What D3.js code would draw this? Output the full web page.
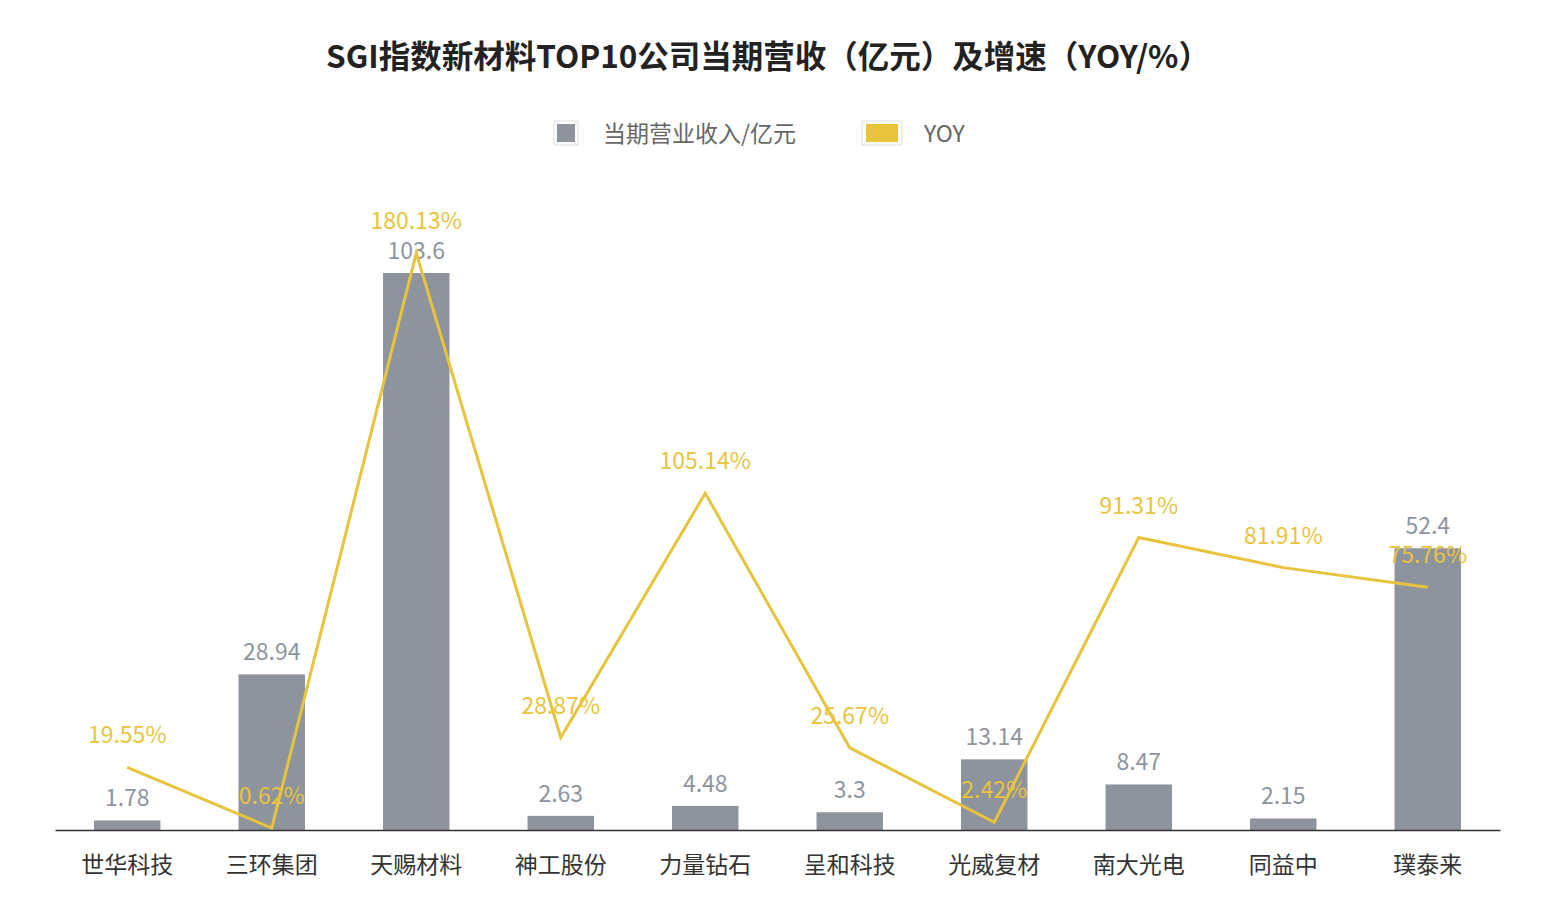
<!DOCTYPE html>
<html><head><meta charset="utf-8">
<script src="https://cdn.jsdelivr.net/npm/d3@7/dist/d3.min.js"></script>
<style>body{margin:0;background:#fff;font-family:"Noto Sans CJK SC","Noto Sans",sans-serif}</style>
</head><body><svg id="c" width="1554" height="914"></svg>
<script>
const categories=["世华科技","三环集团","天赐材料","神工股份","力量钻石","呈和科技","光威复材","南大光电","同益中","璞泰来"];
const revenue=[1.78,28.94,103.6,2.63,4.48,3.3,13.14,8.47,2.15,52.4];
const yoy=[19.55,0.62,180.13,28.87,105.14,25.67,2.42,91.31,81.91,75.76];
const svg=d3.select("#c");
const F='"Noto Sans CJK SC","Noto Sans",sans-serif';
const barC="#8e949e", lineC="#e8c33c";
const x=d3.scaleBand().domain(categories).range([55,1500]).paddingInner(0.54).paddingOuter(0.27);
const y=d3.scaleLinear().domain([0,103.6]).range([830,273]);
const y2=d3.scaleLinear().domain([0,180.13]).range([830,253]);
svg.append("text").attr("x",768).attr("y",68).attr("text-anchor","middle").attr("font-size",31.5).attr("font-weight","bold").attr("fill","#222").attr("font-family",F).text("SGI指数新材料TOP10公司当期营收（亿元）及增速（YOY/%）");
svg.append("rect").attr("x",554).attr("y",121).attr("width",24).attr("height",24).attr("fill","#fff").attr("stroke","#ddd");
svg.append("rect").attr("x",557).attr("y",124).attr("width",18).attr("height",18).attr("fill",barC);
svg.append("text").attr("x",603).attr("y",142).attr("font-size",23).attr("fill","#666").attr("font-family",F).text("当期营业收入/亿元");
svg.append("rect").attr("x",862).attr("y",121).attr("width",40).attr("height",24).attr("fill","#fff").attr("stroke","#ddd");
svg.append("rect").attr("x",866).attr("y",124).attr("width",32).attr("height",18).attr("fill",lineC);
svg.append("text").attr("x",924).attr("y",142).attr("font-size",23).attr("fill","#666").attr("font-family",F).text("YOY");
svg.selectAll(".b").data(revenue).enter().append("rect").attr("x",(d,i)=>x(categories[i])).attr("width",x.bandwidth()).attr("y",d=>y(d)).attr("height",d=>830-y(d)).attr("fill",barC);
svg.selectAll(".bl").data(revenue).enter().append("text").attr("x",(d,i)=>x(categories[i])+x.bandwidth()/2).attr("y",d=>y(d)-14).attr("text-anchor","middle").attr("font-size",23).attr("fill","#8e949e").attr("font-family",F).text(d=>d);
const ax=svg.append("g").attr("transform","translate(0,830)").call(d3.axisBottom(x).tickSize(0).tickPadding(27));
ax.select(".domain").attr("stroke","#333").attr("stroke-width",1.5);
ax.selectAll("text").attr("font-size",23).attr("fill","#333").attr("font-family",F);
const cx=i=>x(categories[i])+x.bandwidth()/2;
svg.append("path").datum(yoy).attr("d",d3.line().x((d,i)=>cx(i)).y(d=>y2(d))).attr("fill","none").attr("stroke",lineC).attr("stroke-width",3);
svg.selectAll(".ll").data(yoy).enter().append("text").attr("x",(d,i)=>cx(i)).attr("y",d=>y2(d)-24).attr("text-anchor","middle").attr("font-size",23).attr("fill",lineC).attr("font-family",F).text(d=>d.toFixed(2)+"%");
</script></body></html>
